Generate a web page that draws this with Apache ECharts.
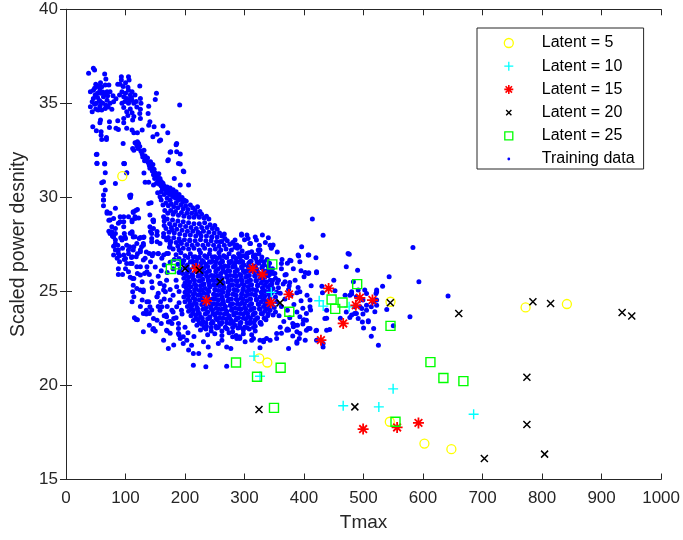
<!DOCTYPE html>
<html>
<head>
    <meta charset="UTF-8">
    <title>Tmax vs scaled power density</title>
    <script src="https://cdn.jsdelivr.net/npm/echarts@6/dist/echarts.min.js"></script>
</head>
<body style="margin:0;background:#fff;">
<div id="main" style="width: 683px;height:540px;"></div>
<script type="text/javascript">
    // latent reconstructions, [Tmax, scaled power density]
    var latent5 = [[94.6,31.13],[324.8,21.44],[338.3,21.22],[545.3,24.45],[772.3,24.15],[841.7,24.33],[544.1,18.07],[602.3,16.91],[647.6,16.61]];
    var latent10 = [[345,24.95],[425.5,24.5],[432.2,24.22],[475.8,24.18],[316,21.56],[326,20.49],[465.8,18.92],[525.7,18.86],[549.7,19.82],[685,18.47]];
    var latent15 = [[218.6,26.22],[236,24.5],[313.7,26.22],[329.9,25.9],[344,24.4],[374.7,24.84],[441.3,25.16],[493.8,24.66],[515,24.54],[487,24.26],[465.8,23.3],[428.4,22.41],[499.3,17.68],[556.4,17.77],[592.3,18.01]];
    var latent20 = [[200.2,26.22],[224.2,26.13],[258.9,25.51],[359.6,24.39],[545,24.4],[660,23.83],[784.6,24.45],[814.3,24.36],[934.5,23.88],[950.7,23.69],[774.5,20.44],[485.4,18.86],[324.3,18.72],[774.5,17.92],[703,16.12],[804.2,16.35]];
    var latent25 = [[176.2,26.19],[184.6,26.44],[346.7,26.44],[375.2,23.92],[446.3,24.57],[452.4,24.07],[464.7,24.41],[489.3,25.39],[545.3,23.17],[285.7,21.22],[360.7,20.94],[321,20.46],[349.5,18.81],[612.4,21.24],[634.2,20.4],[667.8,20.23],[553.7,18.07]];

    // training data
    var trainTop = [[38,36.6],[46,36.86],[48,36.77],[65,36.56],[67,36.29],[93,36.41],[105,36.41],[106,36.24],[93,36.24],[91,36.02],[87,36.02],[124,35.92],[50,36.02],[58,36.09],[66,35.97],[55,35.88],[60,35.88],[72,35.97],[74,35.62],[69,35.62],[41,35.62],[46,35.7],[53,35.53],[59,35.53],[63,35.35],[53,35.31],[46,35.26],[44,35.08],[51,35.0],[58,35.08],[69,35.17],[74,35.0],[80,35.08],[77,34.69],[66,34.73],[60,34.64],[54,34.64],[44,34.55],[41,34.82],[94,35.62],[100,35.53],[105,35.7],[111,35.62],[97,35.35],[102,35.26],[108,35.44],[90,35.44],[94,35.0],[105,35.0],[111,35.17],[114,35.0],[125,35.26],[126,35.0],[97,34.78],[102,34.55],[111,34.5],[125,34.68],[124,34.46],[139,34.85],[152,35.53],[150,35.21],[191,34.91],[138,34.46],[125,34.2],[112,34.11],[97,34.2],[87,34.07],[73,34.02],[58,34.11],[57,33.97],[45,33.75],[51,33.54],[59,33.49],[59,33.31],[60,33.08],[68,33.19],[68,33.08],[73,33.72],[84,33.67],[88,33.61],[97,33.97],[102,33.67],[111,33.58],[114,33.44],[120,33.44],[128,33.58],[141,34.02],[139,33.84],[148,33.75],[153,33.36],[146,33.22],[163,33.79],[171,33.44],[159,33.05],[120,32.96],[122,32.87],[96,32.87],[112,32.6],[114,32.51],[51,32.28],[186,32.87],[176,32.42],[186,32.42],[171,31.95],[192,31.77],[198,31.36],[182,31.0],[52,31.8],[65,31.8],[98,31.8],[66,31.31],[102,31.31],
        [48,35.8],[52,35.95],[57,35.7],[62,35.6],[65,35.45],[70,35.4],[49,35.45],[56,35.15],[62,35.0],[67,34.9],[48,34.95],[50,34.7],[57,34.85],[71,34.8],[84,35.25],[79,35.4],[99,35.1],[107,35.15],[118,35.1],[96,35.9],[100,36.1],[104,35.85],[110,35.3],[116,35.45],[119,34.8],[108,34.7],[114,34.3],[104,34.35]];
    var trainLeft = [[52,32.29],[52,31.81],[65,31.77],[98,31.79],[83,30.74],[60,30.78],[63,30.83],[66,30.39],[63,30.12],[63,29.86],[63,29.56],[69,29.24],[74,29.15],[80,28.88],[72,28.79],[77,28.44],[74,28.08],[83,28.08],[98,28.08],[108,30.03],[109,30.12],[120,29.36],[113,29.24],[105,28.97],[116,28.88],[111,28.7],[91,28.97],[91,28.7],[111,28.08],[116,27.91],[125,27.87],[130,27.87],[141,28.44],[146,28.79],[144,28.08],[153,27.99],[164,28.08],[172,27.87],[139,29.68],[143,29.72],[158,30.03],[154,30.25],[171,30.25],[160,29.86],
        [97,31.8],[102,31.3],[107,30.1],[108,30.0],[131,31.3],[133,30.8],[139,30.8],[147,30.66],[192,32.3],[197,31.4],[206,30.66],[192,30.66],[189,31.8],[185,32.8],[175,32.4],[172,32.0],[157,33.0],[113,29.2],[117,29.3],[116,28.97],[111,28.8],[122,28.9],[97,28.97],[97,28.7],[141,29.06],[147,28.7],[164,28.97],[165,28.5],[178,28.26],[147,28.35],[144,27.82],[153,28.0],[111,28.17],[113,27.9],[99,27.9],[94,27.73],[123,27.82],[131,27.9],[127,27.38],[107,27.38],[113,27.2],[97,26.93],[118,26.85],[169,27.73],[175,27.38],[164,26.93],[147,27.02],[133,26.76],
        [63,29.86],[83,29.42],[69,29.15],[74,28.8],[83,28.35],[88,28.62],[97,28.44],[108,28.09],[100,27.82],[83,27.55],[88,27.2],[86,26.76],[114,27.38],[125,27.2],[130,27.55],[142,28.18],[147,28.8],[153,28.18],[153,27.64],[164,27.91],[172,27.02],[161,26.76],[142,26.58],[130,26.67],[119,26.31],[111,26.49],[105,26.05],[114,25.69],[125,25.87],[136,26.05],[144,25.52],[158,25.43],[169,25.6],[186,25.25],[119,25.16],[130,25.07],[128,24.54],[114,24.72],[136,24.45],[153,24.72],[167,24.98],[175,24.54],[186,24.19],[161,24.19],[144,24.01],[130,23.83],[147,23.56],[169,23.65],[178,23.3],[189,23.03],[175,22.77],[197,22.59],[147,23.03],[164,22.41],[181,22.15],[172,21.97],
        [120,27.0],[135,27.1],[145,26.9],[155,27.0],[165,26.4],[175,26.55],[150,26.3],[160,26.1],[170,26.0],[180,26.2],[140,25.9],[155,25.8],[165,25.3],[175,25.1],[185,25.6],[190,26.0],[145,25.2],[155,24.9],[165,24.6],[180,24.8],[190,25.0],[170,24.2],[180,23.9],[190,24.4],[155,24.2],[165,23.7],[175,23.4],[185,23.6],[195,23.8],[160,23.3],[170,22.9],[190,22.7],[200,23.1],[205,22.8],[215,22.6],[125,24.2],[135,23.8],[120,23.5],[140,23.2],[150,22.9],[130,22.85],[195,26.6],[190,27.2],[198,25.3],[194,24.0],
        [72,28.2],[78,27.95],[92,27.85],[95,27.3],[102,27.45],[80,27.4],[90,26.9],[98,26.7],[105,27.0],[110,26.8],[100,26.2],[108,25.75],[95,25.9],[88,26.2]];
    var trainBand = [[116,32.9],[119,32.75],[121,32.6],[124,32.7],[126,32.45],[128,32.3],[131,32.5],[129,32.15],[133,32.2],[135,32.05],[132,31.95],[137,32.1],
        [138,31.85],[140,31.7],[142,31.9],[141,31.55],[144,31.6],[146,31.75],[145,31.4],[148,31.5],[147,31.2],[150,31.3],[152,31.15],[149,31.0],[154,31.05],[156,31.25],[155,30.9],[158,31.0],[160,30.85],[152,30.75],
        [157,30.7],[160,30.6],[163,30.75],[162,30.45],[165,30.6],[167,30.4],[170,30.55],[169,30.25],[172,30.35],[175,30.5],[174,30.15],[177,30.3],[180,30.4],[179,30.05],[182,30.2],[185,30.3],[184,29.95],[187,30.1],[190,30.15],[189,29.85],[192,29.95],[195,30.0],[165,30.15],[160,30.3],[196,29.75],[199,29.85],[202,29.8],[170,29.95],[175,29.85],
        [163,29.6],[168,29.7],[172,29.55],[177,29.65],[181,29.5],[185,29.7],[188,29.45],[193,29.6],[197,29.4],[201,29.55],[205,29.35],[209,29.6],[213,29.45],[217,29.3],[221,29.5],[225,29.25],[166,29.3],[171,29.15],[176,29.3],[180,29.1],[184,29.25],[189,29.05],[194,29.2],[198,29.0],[203,29.15],[207,28.95],[211,29.15],[215,28.95],[219,29.1],[224,28.95],[228,29.1],[232,28.9],[236,29.0],[240,28.85],
        [165,28.75],[170,28.85],[174,28.6],[179,28.8],[183,28.55],[188,28.75],[192,28.5],[197,28.7],[201,28.45],[206,28.65],[210,28.4],[215,28.6],[219,28.35],[224,28.6],[228,28.4],[233,28.65],[237,28.4],[242,28.55],[246,28.35],[250,28.5],[254,28.3],[168,28.35],[173,28.15],[177,28.4],[182,28.1],[186,28.3],[191,28.05],[195,28.25],[200,28.0],[204,28.2],[209,28.0],[213,28.2],[218,27.95],[222,28.15],[227,27.95],[231,28.2],[236,27.95],[240,28.15],[245,27.9],[249,28.1],[254,27.9],[258,28.1],[262,27.95],[266,28.05],
        [170,27.8],[176,27.65],[181,27.85],[185,27.6],[190,27.8],[194,27.55],[199,27.75],[203,27.5],[208,27.7],[212,27.45],[217,27.7],[221,27.5],[226,27.75],[230,27.45],[235,27.7],[239,27.5],[244,27.7],[248,27.45],[253,27.65],[257,27.4],[262,27.65],[266,27.45],[271,27.7],[275,27.5],[280,27.6],[284,27.35],[174,27.35],[180,27.25],[188,27.4],[197,27.3],[206,27.25],[215,27.3],[224,27.2],[233,27.3],[242,27.2],[251,27.25],[260,27.2],[269,27.25],[278,27.2],[288,27.3],[296,27.15],
        [295,28.05],[304,28.0],[306,27.82],[320,27.73],[323,27.2],[348,27.47],[346,27.38],[284,27.73],[287,27.47],[292,26.93],[304,27.02],[312,27.11],[315,26.85],[292,27.38]];
    var trainCore = [[185,26.95],[193,27.05],[200,26.9],[209,27.0],[217,26.85],[226,27.05],[233,26.9],[241,27.0],[250,26.85],[257,27.05],[265,26.9],[274,27.0],[282,26.85],[290,27.0],[298,26.9],[307,27.05],[315,26.9],[324,27.0],
        [182,26.7],[190,26.75],[198,26.65],[205,26.8],[213,26.6],[221,26.75],[229,26.65],[237,26.8],[246,26.6],[254,26.75],[262,26.65],[270,26.8],[278,26.6],[286,26.75],[294,26.65],[303,26.8],[311,26.6],[319,26.75],[328,26.65],[338,26.7],
        [188,26.45],[196,26.5],[204,26.4],[212,26.55],[219,26.35],[227,26.5],[235,26.45],[243,26.55],[251,26.4],[259,26.5],[267,26.35],[275,26.5],[283,26.45],[291,26.55],[299,26.4],[307,26.5],[316,26.35],[324,26.5],[333,26.4],[342,26.5],
        [192,26.2],[200,26.25],[208,26.15],[216,26.3],[224,26.15],[232,26.25],[240,26.1],[248,26.3],[256,26.2],[264,26.25],[272,26.1],[280,26.3],[288,26.15],[296,26.25],[304,26.1],[312,26.3],[320,26.2],[329,26.25],[338,26.1],[347,26.2],
        [196,25.95],[204,26.0],[212,25.9],[220,26.05],[228,25.9],[236,26.0],[244,25.85],[252,26.05],[260,25.95],[268,26.0],[276,25.85],[284,26.05],[292,25.9],[300,26.0],[308,25.85],[316,26.05],[324,25.95],[333,26.0],[342,25.9],[351,25.95],
        [198,25.7],[206,25.75],[214,25.65],[222,25.8],[230,25.65],[238,25.75],[246,25.6],[254,25.8],[262,25.7],[270,25.75],[278,25.6],[286,25.8],[294,25.65],[302,25.75],[310,25.6],[318,25.8],[326,25.7],[334,25.75],[343,25.6],[352,25.7],
        [200,25.45],[208,25.5],[216,25.4],[224,25.55],[232,25.4],[240,25.5],[248,25.35],[256,25.55],[264,25.45],[272,25.5],[280,25.35],[288,25.55],[296,25.4],[304,25.5],[312,25.35],[320,25.55],[328,25.45],[337,25.5],[346,25.4],[355,25.45],
        [202,25.2],[210,25.25],[218,25.15],[226,25.3],[234,25.15],[242,25.25],[250,25.1],[258,25.3],[266,25.2],[274,25.25],[282,25.1],[290,25.3],[298,25.15],[306,25.25],[314,25.1],[322,25.3],[330,25.2],[339,25.25],[348,25.15],[357,25.2],
        [200,24.95],[208,25.0],[216,24.9],[224,25.05],[232,24.9],[240,25.0],[248,24.85],[256,25.05],[264,24.95],[272,25.0],[280,24.85],[288,25.05],[296,24.9],[304,25.0],[312,24.85],[320,25.05],[328,24.95],[336,25.0],[345,24.9],[354,24.95],
        [198,24.7],[206,24.75],[214,24.65],[222,24.8],[230,24.65],[238,24.75],[246,24.6],[254,24.8],[262,24.7],[270,24.75],[278,24.6],[286,24.8],[294,24.65],[302,24.75],[310,24.6],[318,24.8],[326,24.7],[334,24.75],[343,24.65],[352,24.7],
        [200,24.45],[208,24.5],[216,24.4],[224,24.55],[232,24.4],[240,24.5],[248,24.35],[256,24.55],[264,24.45],[272,24.5],[280,24.35],[288,24.55],[296,24.4],[304,24.5],[312,24.35],[320,24.55],[328,24.45],[336,24.5],[345,24.4],[354,24.45],
        [204,24.2],[212,24.25],[220,24.15],[228,24.3],[236,24.15],[244,24.25],[252,24.1],[260,24.3],[268,24.2],[276,24.25],[284,24.1],[292,24.3],[300,24.15],[308,24.25],[316,24.1],[324,24.3],[332,24.2],[341,24.25],[350,24.15],
        [206,23.95],[214,24.0],[222,23.9],[230,24.05],[238,23.9],[246,24.0],[254,23.85],[262,24.05],[270,23.95],[278,24.0],[286,23.85],[294,24.05],[302,23.9],[310,24.0],[318,23.85],[326,24.05],[334,23.95],[343,24.0],[352,23.9],
        [210,23.7],[218,23.75],[226,23.65],[234,23.8],[242,23.65],[250,23.75],[258,23.6],[266,23.8],[274,23.7],[282,23.75],[290,23.6],[298,23.8],[306,23.65],[314,23.75],[322,23.6],[330,23.8],[339,23.7],[348,23.75],
        [214,23.45],[222,23.5],[230,23.4],[238,23.55],[246,23.4],[254,23.5],[262,23.35],[270,23.55],[278,23.45],[286,23.5],[294,23.35],[302,23.55],[310,23.4],[318,23.5],[327,23.35],[336,23.5],
        [220,23.2],[228,23.25],[236,23.15],[244,23.3],[252,23.15],[260,23.25],[268,23.1],[276,23.3],[284,23.2],[292,23.25],[300,23.1],[309,23.3],[318,23.15],[328,23.25],
        [226,22.95],[235,23.0],[244,22.9],[253,23.05],[262,22.9],[271,23.0],[280,22.85],[289,23.05],[298,22.95],[308,23.0],[318,22.9],
        [238,22.7],[250,22.75],[262,22.65],[274,22.8],[286,22.65],[298,22.75],[312,22.7]];
    // extra points in the most crowded part of the cloud
    var trainCoreFill = [[214,26.83],[224,26.83],[236,26.83],[246,26.83],[258,26.83],[268,26.83],[281,26.83],[292,26.83],[304,26.83],[316,26.83],[329,26.83],
        [209,26.58],[219,26.58],[231,26.58],[241,26.58],[252,26.58],[263,26.58],[274,26.58],[286,26.58],[297,26.58],[309,26.58],[321,26.58],[333,26.58],
        [203,26.33],[215,26.33],[226,26.33],[238,26.33],[249,26.33],[261,26.33],[272,26.33],[284,26.33],[295,26.33],[306,26.33],[318,26.33],[330,26.33],[340,26.33],
        [206,26.08],[218,26.08],[229,26.08],[241,26.08],[252,26.08],[264,26.08],[275,26.08],[287,26.08],[298,26.08],[310,26.08],[321,26.08],[333,26.08],[344,26.08],
        [202,25.83],[213,25.83],[225,25.83],[236,25.83],[248,25.83],[259,25.83],[271,25.83],[282,25.83],[294,25.83],[305,25.83],[317,25.83],[328,25.83],[340,25.83],
        [204,25.58],[216,25.58],[227,25.58],[239,25.58],[250,25.58],[262,25.58],[273,25.58],[285,25.58],[296,25.58],[308,25.58],[319,25.58],[331,25.58],[347,25.58],
        [206,25.33],[218,25.33],[229,25.33],[241,25.33],[253,25.33],[264,25.33],[276,25.33],[287,25.33],[299,25.33],[310,25.33],[322,25.33],[334,25.33],[343,25.33],
        [205,25.08],[216,25.08],[228,25.08],[239,25.08],[251,25.08],[262,25.08],[274,25.08],[285,25.08],[297,25.08],[308,25.08],[320,25.08],[332,25.08],[343,25.08],
        [203,24.83],[214,24.83],[226,24.83],[237,24.83],[249,24.83],[260,24.83],[272,24.83],[283,24.83],[295,24.83],[306,24.83],[318,24.83],[330,24.83],[341,24.83],
        [205,24.58],[217,24.58],[228,24.58],[240,24.58],[251,24.58],[263,24.58],[274,24.58],[286,24.58],[297,24.58],[309,24.58],[320,24.58],[332,24.58],[342,24.58],
        [208,24.33],[219,24.33],[231,24.33],[242,24.33],[254,24.33],[265,24.33],[277,24.33],[288,24.33],[300,24.33],[311,24.33],[323,24.33],[335,24.33],[346,24.33],
        [210,24.08],[221,24.08],[233,24.08],[244,24.08],[256,24.08],[267,24.08],[279,24.08],[290,24.08],[302,24.08],[313,24.08],[325,24.08],[337,24.08],
        [213,23.83],[224,23.83],[236,23.83],[247,23.83],[259,23.83],[270,23.83],[282,23.83],[293,23.83],[305,23.83],[316,23.83],[328,23.83],[340,23.83],
        [218,23.58],[229,23.58],[241,23.58],[252,23.58],[264,23.58],[275,23.58],[287,23.58],[298,23.58],[310,23.58],[321,23.58],[333,23.58],
        [224,23.33],[235,23.33],[247,23.33],[258,23.33],[270,23.33],[281,23.33],[293,23.33],[304,23.33],[316,23.33],[326,23.33],
        [232,23.08],[244,23.08],[256,23.08],[268,23.08],[280,23.08],[292,23.08],[304,23.08],[315,23.08]];
    var trainEdge = [[77,28.17],[80,27.9],[83,27.73],[87,27.46],[83,27.2],[88,27.02],[80,26.93],[90,26.58],[88,25.9],[100,26.75],[102,26.49],[108,26.49],[111,26.84],[105,27.2],[112,25.69],[113,25.33],[112,24.98],[111,24.45],[115,23.6],[118,23.51],[125,25.07],[128,25.51],[132,25.95],[136,26.31],[120,25.95],[125,26.31],[130,24.98],[139,24.45],[141,24.18],[135,24.0],[140,23.83],[146,22.97],[153,23.47],[158,24.0],[159,24.45],[153,24.71],[164,25.07],[158,25.42],[169,22.94],[172,23.38],[168,23.74],[178,24.0],[181,23.56],[189,23.3],[189,22.76],[192,22.5],[197,22.23],[203,22.41],[211,22.14],[206,21.88],[214,21.7],[214,21.08],[223,21.7],[235,20.99],[231,22.32],[239,22.05],[242,21.6],[256,22.23],[262,22.41],[270,22.05],[270,21.02],[277,21.97],[280,22.59],[287,22.5],[292,22.59],[301,22.32],[312,22.41],[326,22.41],[326,22.0],[332,22.41],[337,22.5],[354,22.76],[374,21.97],[388,22.32],[392,22.5],[371,22.94],[382,23.12],[389,23.2],[399,23.47],[404,22.94],[407,23.03],[432,22.23],[435,23.56],[438,22.94],[421,22.94],
        [432,27.99],[407,26.93],[393,26.58],[390,26.93],[376,26.66],[362,26.49],[348,25.95],[343,27.46],[326,27.2],[318,26.93],[309,27.55],[295,27.99],[281,27.55],[267,27.82],[259,27.64],[245,27.9],[225,28.08],[208,27.73],[192,27.64],[175,27.55],[158,27.55],[144,27.64],[130,27.46],[119,27.55],[125,27.11],[140,27.02],[155,27.02],[169,27.02],[340,25.95],[357,25.6],[368,25.51],[393,24.98],[407,25.95],[421,26.04],[471,26.31],[474,27.02],[410,24.54],[410,24.18],[404,23.47],[438,24.0],[432,22.05],[421,22.41],[393,22.76],[381,23.3],[393,23.65],[404,23.83],[471,23.91],[480,23.74],[488,23.83],[491,23.56],
        [476,26.98],[490,26.13],[477,24.8],[469,24.8],[480,24.98],[483,25.51],[543,25.78],[532,25.28],[522,24.98],[521,24.89],[505,24.89],[499,24.54],[488,24.71],[485,24.18],[494,24.18],[505,24.27],[522,24.27],[519,23.92],[497,24.09],[485,23.83],[477,23.61],[498,23.38],[508,23.44],[500,23.06],[513,22.62],[525,22.14],[550,23.17],[578,23.65],[593,25.51],[583,27.34],[642,24.75],[539,24.04],[516,24.45],
        [414,28.85],[396,27.37],[391,26.88],[408,26.93],[420,26.79],[378,26.63],[450,25.6],[421,25.99],[408,25.99],[400,25.78],[376,25.48],[368,25.87],[390,25.21],[374,25.1],[388,24.93],[430,25.28],[452,25.03],[480,24.86],
        [402,26.0],[431,24.93],[411,24.01],[438,23.57],[443,22.98],[420,22.91],[410,23.03],[398,23.27],[388,22.86],[381,22.63],[374,22.95],[362,22.77],[354,22.5],[343,22.41],[332,22.32],[315,22.5],[292,22.5],[388,22.24],[402,22.41],[461,23.57],[499,23.8],[505,24.0],[513,24.19],[522,24.54],[522,25.07],[502,25.07],[491,25.07],[508,23.39],[517,23.03],
        [362,26.2],[370,25.9],[365,25.4],[375,25.3],[360,24.9],[368,24.6],[378,24.8],[362,24.2],[372,24.0],[383,24.3],[358,23.7],[366,23.4],[376,23.6],[388,23.9],[395,24.5],[360,23.1],[372,23.0],[385,23.2],[398,24.1],[405,24.8],[385,25.6],[395,26.1],[412,25.3],[400,23.5],[363,26.7],[372,26.5],[382,26.2],[355,27.1],[345,27.3],[335,27.6],[325,27.45],[310,27.55],[300,27.75],[318,27.9],[330,28.0],[340,27.85]];
    var trainingData = trainTop.concat(trainLeft, trainBand, trainCore, trainCoreFill, trainEdge);

    var xTicks = {min: 0, max: 1000, step: 100};
    var yTicks = {min: 15, max: 40, step: 5};
    var legendNames = ['Latent = 5', 'Latent = 10', 'Latent = 15', 'Latent = 20', 'Latent = 25', 'Training data'];

    var FONT = "'Liberation Sans', Arial, Helvetica, sans-serif";
    var AXIS_COLOR = '#262626';

    var plusPath = 'path://M5,0V10M0,5H10';
    var starPath = 'path://M5,0V10M0,5H10M1.5,1.5L8.5,8.5M1.5,8.5L8.5,1.5';
    var crossPath = 'path://M0,0L10,10M0,10L10,0';

    function markerSeries(name, data, symbol, size, color, width) {
        return {
            name: name,
            type: 'scatter',
            data: data,
            symbol: symbol,
            symbolSize: size,
            symbolKeepAspect: true,
            z: 3,
            itemStyle: {color: 'rgba(0,0,0,0)', borderColor: color, borderWidth: width, opacity: 1},
            emphasis: {disabled: true}
        };
    }

    function axisCommon(extra) {
        var base = {
            type: 'value',
            axisLine: {show: true, lineStyle: {color: AXIS_COLOR, width: 1}},
            axisTick: {show: true, inside: true, length: 6, lineStyle: {color: AXIS_COLOR}},
            splitLine: {show: false},
            axisLabel: {show: false}
        };
        for (var k in extra) base[k] = extra[k];
        return base;
    }

    var myChart = echarts.init(document.getElementById('main'), null, {renderer: 'canvas'});

    var option = {
        backgroundColor: '#ffffff',
        animation: false,
        textStyle: {fontFamily: FONT},
        grid: {left: 66, right: 21.5, top: 9.3, bottom: 60.5, containLabel: false},
        xAxis: [
            axisCommon({
                position: 'bottom', min: xTicks.min, max: xTicks.max, interval: xTicks.step,
                name: 'Tmax', nameLocation: 'middle', nameGap: 34,
                nameTextStyle: {color: AXIS_COLOR, fontSize: 19, fontFamily: FONT},
                axisLabel: {show: true, color: AXIS_COLOR, fontSize: 17, fontFamily: FONT, margin: 10,
                    formatter: function (v) { return String(v); }}
            }),
            axisCommon({position: 'top', min: xTicks.min, max: xTicks.max, interval: xTicks.step})
        ],
        yAxis: [
            axisCommon({
                position: 'left', min: yTicks.min, max: yTicks.max, interval: yTicks.step,
                name: 'Scaled power desnity', nameLocation: 'middle', nameGap: 35,
                nameTextStyle: {color: AXIS_COLOR, fontSize: 19.5, fontFamily: FONT},
                axisLabel: {show: true, color: AXIS_COLOR, fontSize: 17, fontFamily: FONT, margin: 8}
            }),
            axisCommon({position: 'right', min: yTicks.min, max: yTicks.max, interval: yTicks.step})
        ],
        legend: {
            orient: 'vertical',
            left: 477,
            top: 28,
            padding: [7, 9, 2, 25],
            itemGap: 7.2,
            itemWidth: 56,
            itemHeight: 12,
            backgroundColor: '#ffffff',
            borderColor: AXIS_COLOR,
            borderWidth: 1,
            borderRadius: 0,
            selectedMode: false,
            textStyle: {fontSize: 16, color: '#000', fontFamily: FONT},
            data: [
                {name: legendNames[0], icon: 'path://M0,0M12,12M10.5,6A4.5,4.5,0,1,1,1.5,6A4.5,4.5,0,1,1,10.5,6Z',
                    itemStyle: {color: 'rgba(0,0,0,0)', borderColor: '#ffff00', borderWidth: 1.3}},
                {name: legendNames[1], icon: 'path://M0,0M12,12M6,1.5V10.5M1.5,6H10.5',
                    itemStyle: {color: 'rgba(0,0,0,0)', borderColor: '#00ffff', borderWidth: 1.3}},
                {name: legendNames[2], icon: 'path://M0,0M12,12M6,1.5V10.5M1.5,6H10.5M2.8,2.8L9.2,9.2M2.8,9.2L9.2,2.8',
                    itemStyle: {color: 'rgba(0,0,0,0)', borderColor: '#ff0000', borderWidth: 1.6}},
                {name: legendNames[3], icon: 'path://M0,0M12,12M3.4,3.4L8.6,8.6M3.4,8.6L8.6,3.4',
                    itemStyle: {color: 'rgba(0,0,0,0)', borderColor: '#000000', borderWidth: 1.4}},
                {name: legendNames[4], icon: 'path://M0,0M12,12M2,2H10V10H2Z',
                    itemStyle: {color: 'rgba(0,0,0,0)', borderColor: '#00ff00', borderWidth: 1.3}},
                {name: legendNames[5], icon: 'path://M0,0M12,12M4.6,6A1.4,1.4,0,1,1,7.4,6A1.4,1.4,0,1,1,4.6,6Z',
                    itemStyle: {color: '#0000ff', borderWidth: 0}}
            ]
        },
        series: [
            {
                name: legendNames[5],
                type: 'scatter',
                data: trainingData,
                symbol: 'circle',
                symbolSize: 5,
                z: 2,
                itemStyle: {color: '#0000ff', opacity: 1},
                emphasis: {disabled: true}
            },
            markerSeries(legendNames[0], latent5, 'circle', 9, '#ffff00', 1.3),
            markerSeries(legendNames[1], latent10, plusPath, 10, '#00ffff', 1.4),
            markerSeries(legendNames[2], latent15, starPath, 11, '#ff0000', 1.8),
            markerSeries(legendNames[3], latent20, crossPath, 7, '#000000', 1.5),
            markerSeries(legendNames[4], latent25, 'rect', 9, '#00ff00', 1.4)
        ]
    };

    myChart.setOption(option);
</script>
</body>
</html>
